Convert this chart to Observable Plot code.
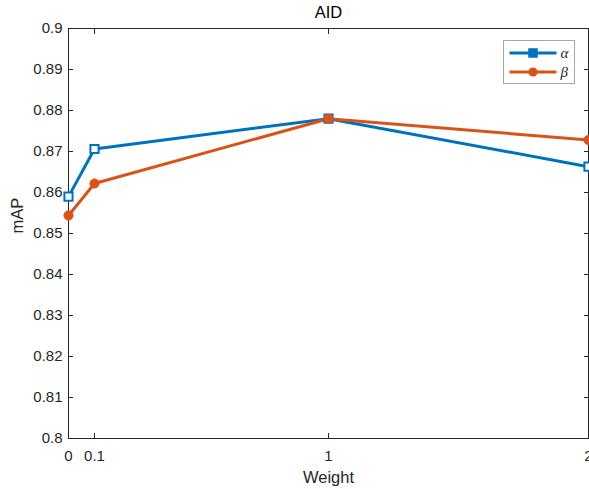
<!DOCTYPE html>
<html>
<head>
<meta charset="utf-8">
<script src="https://cdn.jsdelivr.net/npm/d3@7"></script>
<script src="https://cdn.jsdelivr.net/npm/@observablehq/plot@0.6"></script>
<style>
  body { margin: 0; background: #fff; }
  #wrap { position: relative; width: 589px; height: 489px; }
  #wrap svg { overflow: visible; }
  #legend { position: absolute; left: 0; top: 0; }
</style>
</head>
<body>
<div id="wrap"></div>
<script>
const weights = [0, 0.1, 1, 2];
const alphaValues = [0.8590, 0.8706, 0.8780, 0.8663];
const betaValues = [0.8544, 0.8622, 0.8780, 0.8728];
const xTicks = [0, 0.1, 1, 2];
const yTicks = [0.8, 0.81, 0.82, 0.83, 0.84, 0.85, 0.86, 0.87, 0.88, 0.89, 0.9];
const seriesNames = ["α", "β"];
const titleText = "AID";
const xLabel = "Weight";
const yLabel = "mAP";

const blue = "#0072BD";
const orange = "#D95319";
const axisColor = "#262626";

const alphaData = weights.map((w, i) => ({x: w, y: alphaValues[i]}));
const betaData = weights.map((w, i) => ({x: w, y: betaValues[i]}));

const font = "'Liberation Sans', Arial, sans-serif";

const plot = Plot.plot({
  width: 589,
  height: 489,
  marginLeft: 68,
  marginRight: 1,
  marginTop: 28,
  marginBottom: 51,
  style: {fontFamily: font, fontSize: "15px", color: axisColor, background: "white"},
  x: {domain: [0, 2]},
  y: {domain: [0.8, 0.9]},
  marks: [
    Plot.frame({stroke: axisColor, strokeWidth: 1}),
    Plot.axisX({ticks: xTicks, tickSize: -5, tickPadding: 17, tickFormat: d => String(d), label: null, stroke: axisColor, fill: axisColor, fontSize: 15}),
    Plot.axisX({anchor: "top", ticks: xTicks, tickSize: -5, tickFormat: () => "", label: null, stroke: axisColor}),
    Plot.axisY({ticks: yTicks, tickSize: -5, tickPadding: 11, tickFormat: d => String(+d.toFixed(2)), label: null, stroke: axisColor, fill: axisColor, fontSize: 15}),
    Plot.axisY({anchor: "right", ticks: yTicks, tickSize: -5, tickFormat: () => "", label: null, stroke: axisColor}),
    Plot.line(alphaData, {x: "x", y: "y", stroke: blue, strokeWidth: 3}),
    Plot.line(betaData, {x: "x", y: "y", stroke: orange, strokeWidth: 3}),
    Plot.dot(alphaData, {x: "x", y: "y", symbol: "square", r: 4.6, stroke: blue, strokeWidth: 2, fill: "white"}),
    Plot.dot(betaData, {x: "x", y: "y", symbol: "circle", r: 4.6, fill: orange, stroke: orange, strokeWidth: 1}),
    Plot.text([titleText], {text: d => d, frameAnchor: "top", lineAnchor: "middle", dy: -16, fontSize: 16.5, fill: "black"}),
    Plot.text([xLabel], {text: d => d, frameAnchor: "bottom", lineAnchor: "middle", dy: 39, fontSize: 16.5, fill: axisColor}),
    Plot.text([yLabel], {text: d => d, frameAnchor: "left", lineAnchor: "middle", rotate: -90, dx: -51, fontSize: 16.5, fill: axisColor})
  ]
});

document.getElementById("wrap").appendChild(plot);

// Legend (MATLAB-style box, top-right of the axes)
const lg = d3.select("#wrap").append("svg")
  .attr("id", "legend")
  .attr("width", 589).attr("height", 489)
  .style("pointer-events", "none");
const bx = 503.5, by = 40.5, bw = 71, bh = 43;
lg.append("rect").attr("x", bx).attr("y", by).attr("width", bw).attr("height", bh)
  .attr("fill", "white").attr("stroke", "#a6a6a6").attr("stroke-width", 1);
const items = [
  {name: seriesNames[0], color: blue, sym: "square"},
  {name: seriesNames[1], color: orange, sym: "circle"}
];
items.forEach((it, i) => {
  const yy = by + 12.5 + i * 19;
  const g = lg.append("g");
  g.append("line").attr("x1", bx + 6).attr("x2", bx + 53).attr("y1", yy).attr("y2", yy)
    .attr("stroke", it.color).attr("stroke-width", 3);
  if (it.sym === "square") {
    g.append("rect").attr("x", bx + 29.5 - 4).attr("y", yy - 4).attr("width", 8).attr("height", 8)
      .attr("fill", it.color).attr("stroke", it.color).attr("stroke-width", 1.5);
  } else {
    g.append("circle").attr("cx", bx + 29.5).attr("cy", yy).attr("r", 4.6).attr("fill", it.color);
  }
  g.append("text").attr("x", bx + 57).attr("y", yy).attr("dy", "0.32em")
    .attr("font-family", "'Liberation Serif', 'DejaVu Serif', serif").attr("font-style", "italic")
    .attr("font-size", 15).attr("fill", axisColor).text(it.name);
});
</script>
</body>
</html>
